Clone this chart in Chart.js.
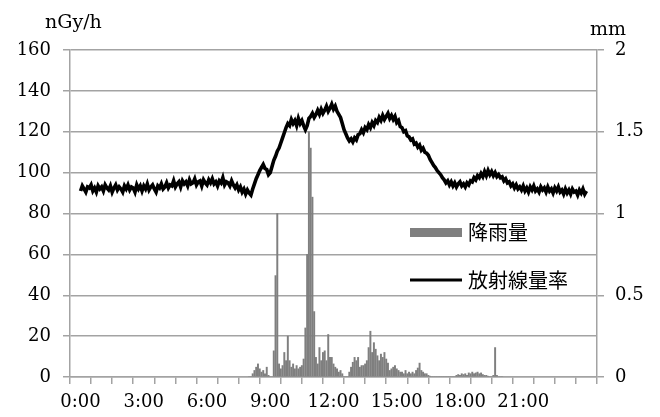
<!DOCTYPE html>
<html>
<head>
<meta charset="utf-8">
<script src="https://cdn.jsdelivr.net/npm/chart.js@4.4.1/dist/chart.umd.min.js"></script>
<style>
  body { margin: 0; background: #fff; }
  canvas { display: block; }
</style>
</head>
<body>
<canvas id="chart" width="660" height="417"></canvas>
<script>
// dose rate, nGy/h, one reading every 5 minutes from 0:00 to 24:00 (one row per hour)
const doseStep = 5;
const doseRate = [
  91, 93.5, 92, 90.5, 93, 92.5, 94, 91, 92.5, 90.5, 93.5, 92,
  93, 91, 94, 92.5, 91.5, 93.5, 90.5, 92.5, 94, 91.5, 93, 92,
  90.5, 93.5, 92, 94, 91.5, 93, 92.5, 90.5, 94, 92, 93.5, 91,
  93.5, 92, 94.5, 91.5, 93, 94, 92, 90.5, 93.5, 92.5, 94.5, 92,
  93, 95, 92.5, 94, 93.5, 96, 93, 94.5, 95.5, 93, 96, 94.5,
  95.5, 93.5, 96.5, 94.5, 95, 97, 94, 95.5, 96, 93.5, 96.5, 95,
  94, 96.5, 95, 97, 94.5, 95.5, 93.5, 96, 95, 97.5, 94, 95.5,
  95, 93.5, 96, 94, 92.5, 94, 91.5, 93, 90.5, 92, 89.5, 91.5,
  90, 89, 92, 94.5, 97, 99, 101, 102.5, 104, 102, 101.5, 99,
  100, 103, 106, 108, 110.5, 112, 114.5, 117, 119.5, 122, 124, 123,
  126, 124, 125.5, 123, 126.5, 124, 125.5, 123, 121, 123, 126.5, 127.5,
  129, 127, 128.5, 130.5, 128.5, 131, 129, 130.5, 132.5, 130, 131.5, 133.5,
  131, 132.5, 130, 128.5, 127, 124, 121, 119, 117, 115.5, 116.5, 115,
  117, 116, 118.5, 119, 121, 119.5, 122, 121, 123.5, 122, 124.5, 123,
  125.5, 124.5, 127, 125.5, 128, 126, 127.5, 129, 126.5, 128, 126, 127.5,
  124.5, 125.5, 122.5, 122, 120, 120.5, 118, 117.5, 116, 116.5, 114, 114.5,
  112.5, 113.5, 111, 112, 110, 109.5, 108.5, 106.5, 105, 103.5, 102.5, 101,
  100, 99, 97.5, 96.5, 95, 96, 94, 95.5, 93.5, 95, 93, 94.5,
  95.5, 93.5, 94.5, 93, 95, 94, 96, 95.5, 97.5, 96.5, 98.5, 97.5,
  99.5, 98, 100.5, 98.5, 101, 99, 100.5, 98.5, 100, 98, 99, 97.5,
  98, 96, 97, 95, 95.5, 93.5, 94.5, 92.5, 94, 92, 93, 91.5,
  93.5, 91, 92.5, 90.5, 93, 91.5, 93.5, 91, 92, 90.5, 93, 91.5,
  92.5, 90.5, 93, 91, 92, 90, 92.5, 91, 93, 90.5, 91.5, 89.5,
  92, 90, 91.5, 89.5, 92, 90.5, 91, 89, 91.5, 90, 92, 89.5,
  91
];

// rainfall, mm, one value every 5 minutes from 8:00 to 20:00
const rainStart = 480;
const rainStep = 5;
const rainfall = [
  0, 0, 0.02, 0.04, 0.06, 0.08, 0.05, 0.03, 0.04, 0.02, 0.06, 0.01,
  0, 0, 0.16, 0.62, 1.0, 0.08, 0.05, 0.07, 0.15, 0.1, 0.25, 0.1,
  0.06, 0.08, 0.05, 0.07, 0.05, 0.06, 0.07, 0.11, 0.3, 0.75, 1.5, 1.4,
  1.1, 0.4, 0.12, 0.08, 0.18, 0.1, 0.15, 0.16, 0.1, 0.26, 0.12, 0.12,
  0.08, 0.06, 0.05, 0.03, 0.04, 0.02, 0, 0, 0, 0.03, 0.06, 0.09,
  0.12, 0.1, 0.12, 0.06, 0.07, 0.07, 0.08, 0.1, 0.18, 0.28, 0.15, 0.21,
  0.17, 0.13, 0.1, 0.14, 0.12, 0.15, 0.11, 0.085, 0.04, 0.05, 0.06, 0.07,
  0.05, 0.04, 0.03, 0.03, 0.02, 0.04, 0.02, 0.03, 0.02, 0.03, 0.02, 0.04,
  0.055, 0.085, 0.04, 0.03, 0.02, 0.02, 0.01, 0.005, 0, 0, 0, 0,
  0, 0, 0, 0, 0, 0, 0, 0, 0, 0, 0.01, 0.015,
  0.01, 0.02, 0.015, 0.02, 0.01, 0.025, 0.02, 0.03, 0.02, 0.025, 0.03, 0.02,
  0.025, 0.015, 0.01, 0.01, 0.005, 0, 0, 0.01, 0.18, 0.01, 0, 0,
  0
];

const timeLabels = ["0:00", "3:00", "6:00", "9:00", "12:00", "15:00", "18:00", "21:00"];
const seriesNames = ["降雨量", "放射線量率"];
const axisTitles = ["nGy/h", "mm"];

const gridGray = '#a3a3a3';
const serif = '"DejaVu Serif", serif';

// axis titles and the legend sit inside/above the plot, so draw them by hand
const overlay = {
  id: 'overlay',
  afterDraw(chart) {
    const ctx = chart.ctx;
    const ds = chart.data.datasets;
    ctx.save();
    ctx.fillStyle = '#000';
    ctx.font = '19px ' + serif;
    ctx.textBaseline = 'alphabetic';
    ctx.fillText(axisTitles[0], 45, 28);
    ctx.fillText(axisTitles[1], 590, 35);

    ctx.font = '20px "Noto Sans CJK JP"';
    ctx.textBaseline = 'middle';
    ctx.fillStyle = ds[0].backgroundColor;
    ctx.fillRect(410, 228, 52, 9);
    ctx.fillStyle = '#000';
    ctx.fillText(ds[0].label, 468, 232);

    ctx.strokeStyle = ds[1].borderColor;
    ctx.lineWidth = 3;
    ctx.beginPath();
    ctx.moveTo(410, 280);
    ctx.lineTo(462, 280);
    ctx.stroke();
    ctx.fillText(ds[1].label, 468, 280);
    ctx.restore();
  }
};

const ctx = document.getElementById('chart').getContext('2d');
new Chart(ctx, {
  data: {
    datasets: [
      {
        type: 'bar',
        label: seriesNames[0],
        data: rainfall.map((v, i) => ({ x: rainStart + i * rainStep, y: v })),
        backgroundColor: '#7f7f7f',
        barThickness: 1.3,
        yAxisID: 'y1',
        order: 1
      },
      {
        type: 'line',
        label: seriesNames[1],
        data: doseRate.map((v, i) => ({ x: i * doseStep, y: v })),
        borderColor: '#000',
        borderWidth: 3.6,
        pointRadius: 0,
        tension: 0,
        yAxisID: 'y',
        order: 0
      }
    ]
  },
  options: {
    responsive: false,
    animation: false,
    layout: { padding: { top: 50, left: 0, right: 0, bottom: 0 } },
    plugins: {
      legend: { display: false },
      tooltip: { enabled: false }
    },
    scales: {
      x: {
        type: 'linear',
        min: 0,
        max: 1440,
        afterFit: s => { s.height = 40; },
        ticks: {
          stepSize: 60,
          autoSkip: false,
          maxRotation: 0,
          padding: 8,
          color: '#000',
          font: { family: serif, size: 18 },
          callback: v => (v % 180 === 0 && timeLabels[v / 180]) || ''
        },
        grid: { drawOnChartArea: false, drawTicks: true, tickLength: 7, color: gridGray, lineWidth: 1.5 },
        border: { display: true, color: gridGray, width: 1.5 }
      },
      y: {
        position: 'left',
        min: 0,
        max: 160,
        afterFit: s => { s.width = 70; },
        ticks: {
          stepSize: 20,
          padding: 12,
          color: '#000',
          font: { family: serif, size: 18 }
        },
        grid: { color: gridGray, lineWidth: 1.5, tickLength: 7 },
        border: { display: true, color: gridGray, width: 1.5 }
      },
      y1: {
        position: 'right',
        min: 0,
        max: 2,
        afterFit: s => { s.width = 63; },
        ticks: {
          stepSize: 0.5,
          padding: 11,
          color: '#000',
          font: { family: serif, size: 18 },
          callback: v => String(v)
        },
        grid: { drawOnChartArea: false, color: gridGray, lineWidth: 1.5, tickLength: 7 },
        border: { display: true, color: gridGray, width: 1.5 }
      }
    }
  },
  plugins: [overlay]
});
</script>
</body>
</html>
